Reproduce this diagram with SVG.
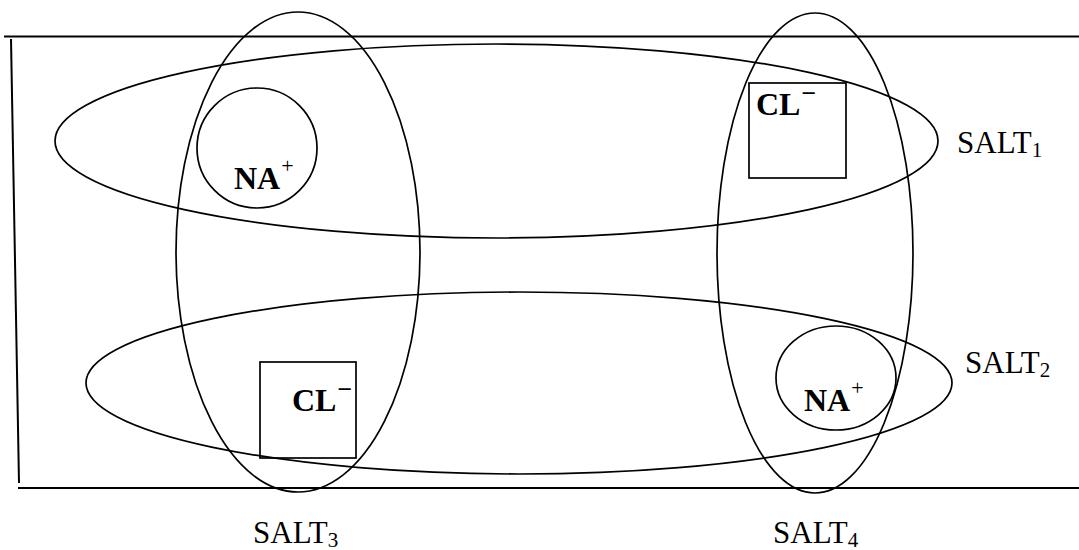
<svg xmlns="http://www.w3.org/2000/svg" width="1079" height="550" viewBox="0 0 1079 550">
  <style>
    .ln { fill: none; stroke: #000; stroke-width: 2; }
    .sh { fill: none; stroke: #000; stroke-width: 1.7; }
    .ion { font-family: "Liberation Serif", "Times New Roman", serif; font-weight: bold; font-size: 32px; fill: #000; }
    .sup { font-weight: normal; font-size: 22px; }
    .dash { font-size: 26px; }
    .lbl { font-family: "Liberation Serif", "Times New Roman", serif; font-size: 31px; fill: #000; }
    .sub { font-size: 21px; }
  </style>
  <rect width="1079" height="550" fill="#fff"/>

  <!-- frame lines -->
  <g id="frame">
    <line class="ln" x1="4" y1="36.5" x2="1079" y2="36.5"/>
    <line class="ln" x1="11" y1="39" x2="19" y2="483"/>
    <line class="ln" x1="18" y1="488" x2="1079" y2="488"/>
  </g>

  <!-- salt groupings (the connectors of this figure) -->
  <g id="connectors">
    <ellipse id="salt1-ring" class="sh" cx="496.5" cy="141" rx="441.5" ry="97"/>
    <ellipse id="salt2-ring" class="sh" cx="519" cy="383" rx="433" ry="91"/>
    <ellipse id="salt3-ring" class="sh" cx="298" cy="252" rx="122" ry="240"/>
    <ellipse id="salt4-ring" class="sh" cx="815" cy="253" rx="98" ry="240"/>
  </g>

  <!-- ions -->
  <g id="na-top">
    <circle class="sh" cx="257" cy="148" r="60"/>
    <text class="ion" x="234" y="189">NA<tspan class="sup" dx="1" dy="-16">+</tspan></text>
  </g>
  <g id="cl-top">
    <rect class="sh" x="749" y="83" width="97" height="95"/>
    <text class="ion" x="756" y="115">CL<tspan class="dash" dx="1" dy="-13">−</tspan></text>
  </g>
  <g id="cl-bottom">
    <rect class="sh" x="260" y="362" width="96" height="96"/>
    <text class="ion" x="292" y="411">CL<tspan class="dash" dx="1" dy="-13">−</tspan></text>
  </g>
  <g id="na-bottom">
    <ellipse class="sh" cx="836" cy="378" rx="60" ry="52"/>
    <text class="ion" x="804" y="411">NA<tspan class="sup" dx="1" dy="-16">+</tspan></text>
  </g>

  <!-- salt labels -->
  <g id="salt1"><text class="lbl" x="957" y="153">SALT<tspan class="sub" dy="4">1</tspan></text></g>
  <g id="salt2"><text class="lbl" x="965" y="373">SALT<tspan class="sub" dy="4">2</tspan></text></g>
  <g id="salt3"><text class="lbl" x="253" y="543">SALT<tspan class="sub" dy="4">3</tspan></text></g>
  <g id="salt4"><text class="lbl" x="773" y="543">SALT<tspan class="sub" dy="4">4</tspan></text></g>
</svg>
